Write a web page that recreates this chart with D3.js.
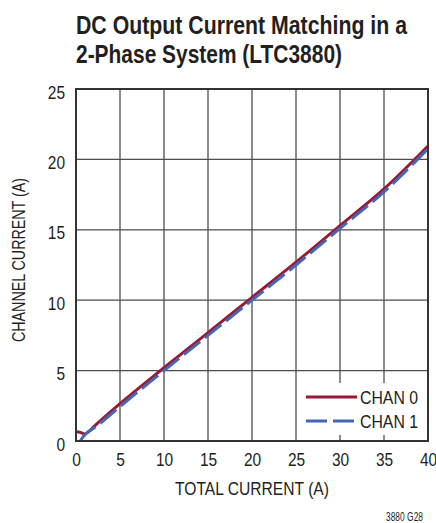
<!DOCTYPE html>
<html>
<head>
<meta charset="utf-8">
<script src="https://cdn.jsdelivr.net/npm/d3@7"></script>
<style>
  html, body { margin: 0; padding: 0; background: #fff; }
  svg { display: block; }
  text { font-family: "Liberation Sans", Arial, sans-serif; fill: #231f20; }
</style>
</head>
<body>
<svg id="chart" width="436" height="523"></svg>
<script>
const titleLines = ["DC Output Current Matching in a", "2-Phase System (LTC3880)"];
const xTicks = [0, 5, 10, 15, 20, 25, 30, 35, 40];
const yTicks = [0, 5, 10, 15, 20, 25];
const seriesNames = ["CHAN 0", "CHAN 1"];
const chan0X = [0, 0.5, 1, 1.5, 2, 5, 10, 15, 20, 25, 30, 35, 40];
const chan0Y = [0.65, 0.6, 0.5, 0.7, 1.0, 2.65, 5.2, 7.7, 10.2, 12.7, 15.3, 17.9, 20.95];
const chan1X = [0.5, 0.8, 1.2, 2, 5, 10, 15, 20, 25, 30, 35, 40];
const chan1Y = [0, 0.3, 0.55, 0.9, 2.45, 5.0, 7.5, 10.0, 12.5, 15.1, 17.7, 20.75];
const xLabel = "TOTAL CURRENT (A)";
const yLabel = "CHANNEL CURRENT (A)";
const note = "3880 G28";

const svg = d3.select("#chart");
const x = d3.scaleLinear().domain([0, 40]).range([76, 428]);
const y = d3.scaleLinear().domain([0, 25]).range([441, 89]);

// condense text horizontally to a target width or ratio
function condense(sel, ratioOrWidth, isWidth) {
  sel.each(function () {
    const w = this.getComputedTextLength();
    const target = isWidth ? ratioOrWidth : w * ratioOrWidth;
    d3.select(this).attr("textLength", target).attr("lengthAdjust", "spacingAndGlyphs");
  });
}

// title
const titleWidths = [331, 266];
svg.append("g").selectAll("text").data(titleLines).join("text")
  .attr("x", 76).attr("y", (d, i) => 34 + i * 29)
  .attr("font-size", 26).attr("font-weight", "bold")
  .text(d => d)
  .each(function (d, i) { condense(d3.select(this), titleWidths[i], true); });

// grid
const grid = svg.append("g").attr("stroke", "#4d4d4d").attr("stroke-width", 1.3);
grid.selectAll("line.v").data(xTicks.slice(1, -1)).join("line")
  .attr("x1", d => x(d)).attr("x2", d => x(d)).attr("y1", y(25)).attr("y2", y(0));
grid.selectAll("line.h").data(yTicks.slice(1, -1)).join("line")
  .attr("y1", d => y(d)).attr("y2", d => y(d)).attr("x1", x(0)).attr("x2", x(40));

// legend background
svg.append("rect").attr("x", 298).attr("y", 383).attr("width", 128).attr("height", 52).attr("fill", "#fff");

// axes via d3 axis (labels only)
const xAxis = svg.append("g").attr("transform", `translate(0,${y(0)})`)
  .call(d3.axisBottom(x).tickValues(xTicks).tickSize(0).tickPadding(12).tickFormat(d3.format("d")));
xAxis.select(".domain").remove();
xAxis.selectAll("text").attr("font-size", 18).attr("font-family", null).attr("fill", "#231f20");
condense(xAxis.selectAll("text"), 0.86);

const yAxis = svg.append("g").attr("transform", `translate(${x(0)},0)`)
  .call(d3.axisLeft(y).tickValues(yTicks).tickSize(0).tickPadding(11).tickFormat(d3.format("d")));
yAxis.select(".domain").remove();
yAxis.selectAll("text").attr("font-size", 18).attr("font-family", null).attr("fill", "#231f20").attr("dy", "0.5em");
condense(yAxis.selectAll("text"), 0.86);

// lines
const line = d3.line().x(d => x(d[0])).y(d => y(d[1])).curve(d3.curveMonotoneX);
const d0 = chan0X.map((v, i) => [v, chan0Y[i]]);
const d1 = chan1X.map((v, i) => [v, chan1Y[i]]);
const red = "#981b36", blue = "#4466b6";
svg.append("path").datum(d0).attr("d", line).attr("fill", "none").attr("stroke", red).attr("stroke-width", 3);
svg.append("path").datum(d1).attr("d", line).attr("fill", "none").attr("stroke", blue).attr("stroke-width", 3).attr("stroke-dasharray", "21,6");

// frame
svg.append("rect").attr("x", x(0)).attr("y", y(25)).attr("width", x(40) - x(0)).attr("height", y(0) - y(25))
  .attr("fill", "none").attr("stroke", "#333").attr("stroke-width", 2);

// legend
const leg = svg.append("g");
[red, blue].forEach((c, i) => {
  leg.append("line").attr("x1", 306).attr("x2", 357).attr("y1", 397 + i * 24).attr("y2", 397 + i * 24)
    .attr("stroke", c).attr("stroke-width", 3).attr("stroke-dasharray", i ? "21,6" : null);
  const t = leg.append("text").attr("x", 360).attr("y", 403.5 + i * 24).attr("font-size", 18).text(seriesNames[i]);
  condense(t, 58, true);
});

// axis titles
const xl = svg.append("text").attr("x", x(20)).attr("y", 495).attr("text-anchor", "middle").attr("font-size", 19).text(xLabel);
condense(xl, 154, true);
const yl = svg.append("text").attr("transform", "translate(25,260) rotate(-90)").attr("text-anchor", "middle").attr("font-size", 18).text(yLabel);
condense(yl, 164, true);
const nt = svg.append("text").attr("x", 423).attr("y", 521).attr("text-anchor", "end").attr("font-size", 12).text(note);
condense(nt, 37, true);
</script>
</body>
</html>
